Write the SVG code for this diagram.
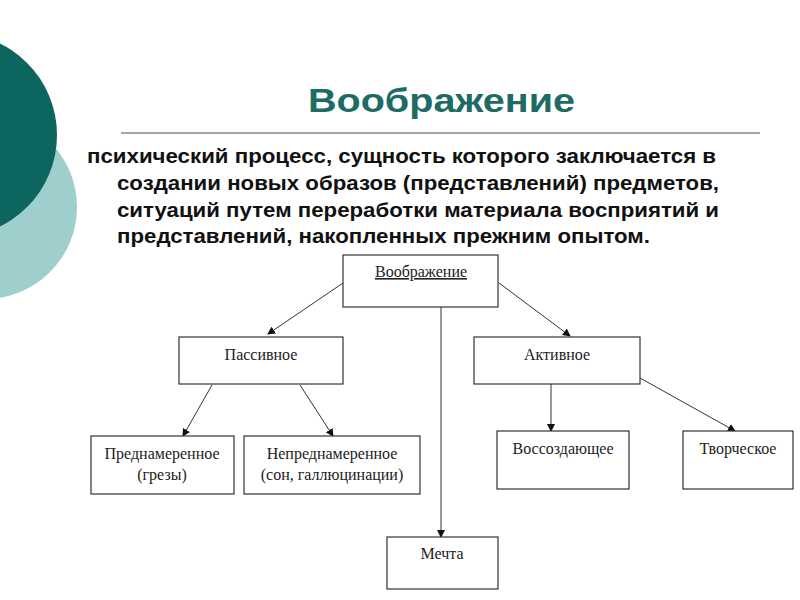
<svg xmlns="http://www.w3.org/2000/svg" width="800" height="600" viewBox="0 0 800 600">
<style>
.b{fill:#fff;stroke:#333;stroke-width:1.2}
.t{font-family:"Liberation Serif",serif;font-size:16px;fill:#222;text-anchor:middle}
.c line{stroke:#333;stroke-width:1}
.p{font-family:"Liberation Sans",Arial,sans-serif;font-size:21px;font-weight:bold;fill:#111}
</style>
<defs><marker id="a" markerWidth="8" markerHeight="8" refX="7" refY="4" orient="auto" markerUnits="userSpaceOnUse"><path d="M0,0L8,4L0,8Z" fill="#111"/></marker></defs>
<rect width="800" height="600" fill="#fff"/>
<circle cx="-15" cy="207" r="92" fill="#9ecfcd"/>
<circle cx="-45" cy="135" r="102" fill="#0d6560"/>
<text x="308" y="112" font-family="Liberation Sans,Arial,sans-serif" font-size="34" font-weight="bold" fill="#1c6b64" textLength="267" lengthAdjust="spacingAndGlyphs">Воображение</text>
<line x1="121" y1="133" x2="760" y2="133" stroke="#888" stroke-width="1.5"/>
<text class="p" x="87" y="163" textLength="629" lengthAdjust="spacingAndGlyphs">психический процесс, сущность которого заключается в</text>
<text class="p" x="117" y="190" textLength="602" lengthAdjust="spacingAndGlyphs">создании новых образов (представлений) предметов,</text>
<text class="p" x="117" y="217" textLength="602" lengthAdjust="spacingAndGlyphs">ситуаций путем переработки материала восприятий и</text>
<text class="p" x="117" y="243" textLength="533" lengthAdjust="spacingAndGlyphs">представлений, накопленных прежним опытом.</text>
<g class="c">
<line x1="343" y1="283" x2="268" y2="334" marker-end="url(#a)"/>
<line x1="499" y1="283" x2="570" y2="336" marker-end="url(#a)"/>
<line x1="441" y1="307" x2="441" y2="537" marker-end="url(#a)"/>
<line x1="212" y1="385" x2="183" y2="436" marker-end="url(#a)"/>
<line x1="300" y1="385" x2="333" y2="436" marker-end="url(#a)"/>
<line x1="551" y1="384" x2="551" y2="431" marker-end="url(#a)"/>
<line x1="640" y1="378" x2="735" y2="431" marker-end="url(#a)"/>
</g>
<g id="root"><rect class="b" x="343" y="255" width="155" height="52"/><text class="t" x="421" y="277" text-decoration="underline">Воображение</text></g>
<g id="passive"><rect class="b" x="179" y="337" width="164" height="47"/><text class="t" x="261" y="360">Пассивное</text></g>
<g id="active"><rect class="b" x="474" y="337" width="166" height="47"/><text class="t" x="557" y="360">Активное</text></g>
<g id="pred"><rect class="b" x="91" y="436" width="143" height="58"/><text class="t" x="162" y="459">Преднамеренное</text><text class="t" x="162" y="480">(грезы)</text></g>
<g id="nepred"><rect class="b" x="244" y="436" width="176" height="58"/><text class="t" x="332" y="459">Непреднамеренное</text><text class="t" x="332" y="480">(сон, галлюцинации)</text></g>
<g id="voss"><rect class="b" x="497" y="431" width="132" height="58"/><text class="t" x="563" y="454">Воссоздающее</text></g>
<g id="tvor"><rect class="b" x="683" y="431" width="110" height="58"/><text class="t" x="738" y="454">Творческое</text></g>
<g id="mechta"><rect class="b" x="387" y="537" width="111" height="52"/><text class="t" x="442" y="559">Мечта</text></g>
</svg>
